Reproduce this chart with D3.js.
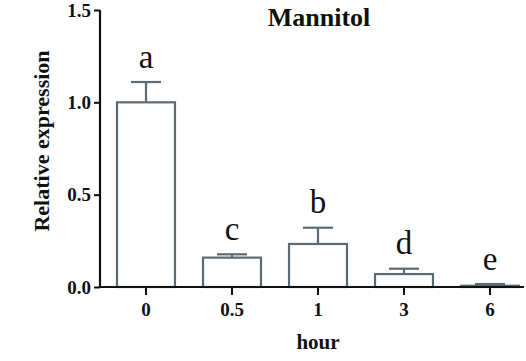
<!DOCTYPE html>
<html>
<head>
<meta charset="utf-8">
<script src="https://cdn.jsdelivr.net/npm/d3@7"></script>
</head>
<body style="margin:0;background:#fff">
<svg id="chart" width="526" height="361" style="display:block"></svg>
<script>
// Mannitol treatment: relative expression over time
const hours = ["0", "0.5", "1", "3", "6"];
const means = [1.0, 0.159, 0.233, 0.070, 0.007];
const errors = [0.11, 0.018, 0.088, 0.029, 0.009];
const letters = ["a", "c", "b", "d", "e"];
const yTicks = [0, 0.5, 1.0, 1.5];

const serif = "'Liberation Serif', serif";
const svg = d3.select("#chart");
const barColor = "#5b6b76";

const x = d3.scaleBand()
  .domain(hours)
  .range([103, 533])
  .paddingInner(0.326)
  .paddingOuter(0.163);

const y = d3.scaleLinear().domain([0, 1.5]).range([287, 10]);

const rows = hours.map((h, i) => ({ h, m: means[i], e: errors[i], l: letters[i] }));

// Bars
svg.append("g").selectAll("rect").data(rows).join("rect")
  .attr("x", d => x(d.h))
  .attr("y", d => y(d.m))
  .attr("width", x.bandwidth())
  .attr("height", d => y(0) - y(d.m))
  .attr("fill", "#fff")
  .attr("stroke", barColor)
  .attr("stroke-width", 2.2);

// Error bars (upper whisker + cap)
const eb = svg.append("g").attr("stroke", barColor).attr("stroke-width", 2.2);
eb.selectAll("line.v").data(rows).join("line").attr("class", "v")
  .attr("x1", d => x(d.h) + x.bandwidth() / 2)
  .attr("x2", d => x(d.h) + x.bandwidth() / 2)
  .attr("y1", d => y(d.m))
  .attr("y2", d => y(d.m + d.e));
eb.selectAll("line.c").data(rows).join("line").attr("class", "c")
  .attr("x1", d => x(d.h) + x.bandwidth() / 2 - 15)
  .attr("x2", d => x(d.h) + x.bandwidth() / 2 + 15)
  .attr("y1", d => y(d.m + d.e))
  .attr("y2", d => y(d.m + d.e));

// Significance letters
svg.append("g").selectAll("text").data(rows).join("text")
  .attr("x", d => x(d.h) + x.bandwidth() / 2)
  .attr("y", d => y(d.m + d.e) - 14.5)
  .attr("text-anchor", "middle")
  .style("font-family", serif)
  .style("font-size", "33px")
  .attr("fill", "#111")
  .text(d => d.l);

// Y axis
const yAxis = svg.append("g")
  .attr("transform", "translate(100,0)")
  .call(d3.axisLeft(y).tickValues(yTicks).tickFormat(d3.format(".1f")).tickSize(6).tickPadding(3));
yAxis.attr("font-family", null).attr("font-size", null);
yAxis.select(".domain").remove();
yAxis.selectAll(".tick line").attr("stroke", "#111").attr("stroke-width", 2);
yAxis.selectAll(".tick text")
  .style("font-family", serif)
  .style("font-weight", "bold")
  .style("font-size", "19px")
  .attr("fill", "#111");

// X axis
const xAxis = svg.append("g")
  .attr("transform", "translate(0,287)")
  .call(d3.axisBottom(x).tickSize(8).tickPadding(8));
xAxis.attr("font-family", null).attr("font-size", null);
xAxis.select(".domain").remove();
xAxis.selectAll(".tick line").attr("stroke", "#111").attr("stroke-width", 2);
xAxis.selectAll(".tick text")
  .style("font-family", serif)
  .style("font-weight", "bold")
  .style("font-size", "19px")
  .attr("fill", "#111");

// Axis lines
svg.append("line")
  .attr("x1", 100).attr("x2", 100)
  .attr("y1", y(1.5)).attr("y2", y(0) + 1)
  .attr("stroke", "#111").attr("stroke-width", 2.2);
svg.append("line")
  .attr("x1", 99).attr("x2", 524)
  .attr("y1", y(0)).attr("y2", y(0))
  .attr("stroke", "#111").attr("stroke-width", 2.2);

// Titles
svg.append("text")
  .attr("x", 319).attr("y", 26)
  .attr("text-anchor", "middle")
  .style("font-family", serif)
  .style("font-weight", "bold")
  .style("font-size", "26px")
  .attr("fill", "#111")
  .text("Mannitol");

svg.append("text")
  .attr("transform", "translate(49,141) rotate(-90)")
  .attr("text-anchor", "middle")
  .style("font-family", serif)
  .style("font-weight", "bold")
  .style("font-size", "22px")
  .attr("fill", "#111")
  .text("Relative expression");

svg.append("text")
  .attr("x", 318).attr("y", 349)
  .attr("text-anchor", "middle")
  .style("font-family", serif)
  .style("font-weight", "bold")
  .style("font-size", "21px")
  .attr("fill", "#111")
  .text("hour");
</script>
</body>
</html>
